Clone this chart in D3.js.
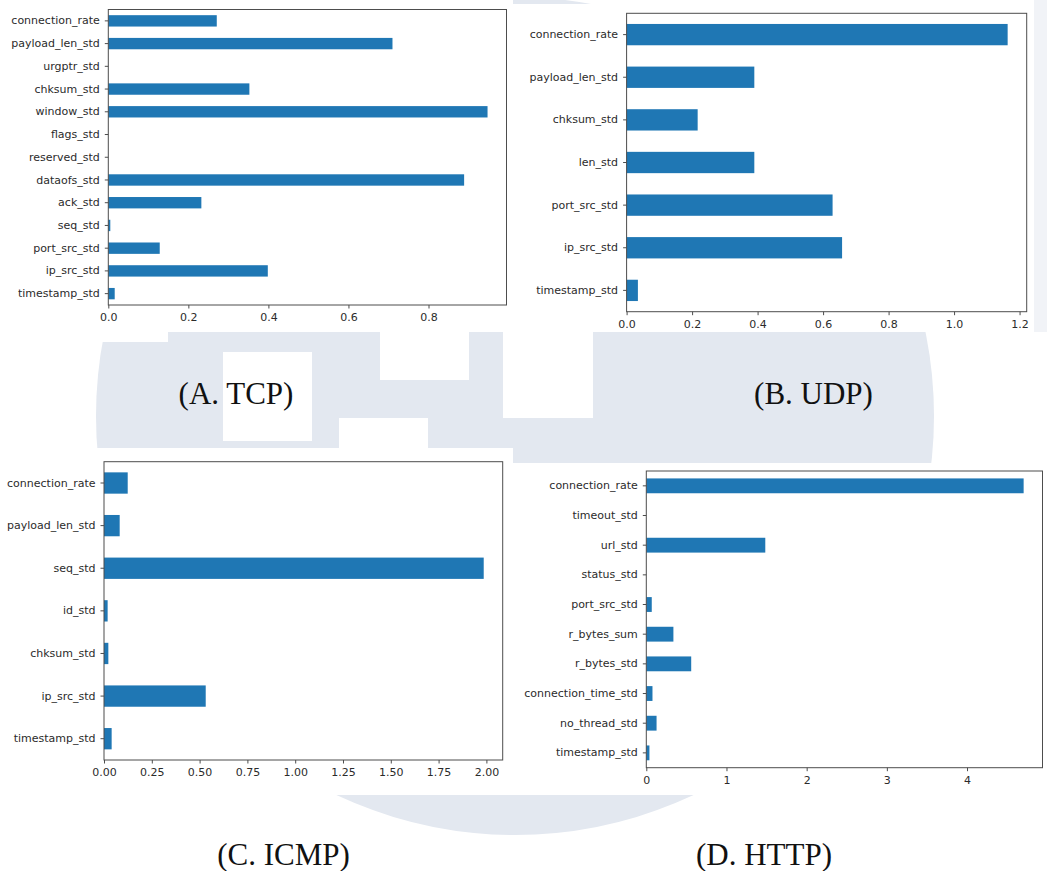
<!DOCTYPE html>
<html>
<head>
<meta charset="utf-8">
<script src="https://cdn.jsdelivr.net/npm/d3@7"></script>
<style>
  html, body { margin: 0; padding: 0; background: #ffffff; }
  svg { display: block; }
</style>
</head>
<body>
<script>
// ---- Feature importance per protocol (top-to-bottom order) ----
const tcpFeatures = ["connection_rate", "payload_len_std", "urgptr_std", "chksum_std", "window_std",
  "flags_std", "reserved_std", "dataofs_std", "ack_std", "seq_std", "port_src_std", "ip_src_std", "timestamp_std"];
const tcpValues = [0.271, 0.710, 0, 0.3525, 0.9475, 0, 0, 0.889, 0.2325, 0.005, 0.1285, 0.3985, 0.016];
const tcpTicks = [0, 0.2, 0.4, 0.6, 0.8];

const udpFeatures = ["connection_rate", "payload_len_std", "chksum_std", "len_std", "port_src_std", "ip_src_std", "timestamp_std"];
const udpValues = [1.1636, 0.390, 0.217, 0.390, 0.629, 0.658, 0.0345];
const udpTicks = [0, 0.2, 0.4, 0.6, 0.8, 1.0, 1.2];

const icmpFeatures = ["connection_rate", "payload_len_std", "seq_std", "id_std", "chksum_std", "ip_src_std", "timestamp_std"];
const icmpValues = [0.124, 0.082, 1.986, 0.019, 0.0227, 0.532, 0.040];
const icmpTicks = [0, 0.25, 0.5, 0.75, 1.0, 1.25, 1.5, 1.75, 2.0];

const httpFeatures = ["connection_rate", "timeout_std", "url_std", "status_std", "port_src_std", "r_bytes_sum",
  "r_bytes_std", "connection_time_std", "no_thread_std", "timestamp_std"];
const httpValues = [4.706, 0, 1.484, 0, 0.068, 0.338, 0.560, 0.077, 0.128, 0.039];
const httpTicks = [0, 1, 2, 3, 4];

const captions = ["(A. TCP)", "(B. UDP)", "(C. ICMP)", "(D. HTTP)"];

// ---- Page ----
const W = 1047, H = 871;
const svg = d3.select("body").append("svg").attr("width", W).attr("height", H);

// Background emblem: pale disc with square cut-outs, covered by the panel areas
const bg = svg.append("g");
bg.append("circle").attr("cx", 515).attr("cy", 416).attr("r", 419).attr("fill", "#e3e8f0");
const whiteBlocks = [
  [0, 0, 513, 332], [0, 0, 168, 342], [513, 4, 521, 328], [1034, 0, 13, 332],
  [223, 352, 89, 89], [380, 330, 89, 50], [339, 418, 89, 32], [503, 330, 90, 88],
  [0, 448, 513, 347], [513, 463, 534, 332]
];
bg.selectAll("rect.blk").data(whiteBlocks).join("rect")
  .attr("x", d => d[0]).attr("y", d => d[1]).attr("width", d => d[2]).attr("height", d => d[3])
  .attr("fill", "#ffffff");
bg.append("rect").attr("x", 1034).attr("y", 0).attr("width", 13).attr("height", 332).attr("fill", "#f1f3f7");

const BAR = "#1f77b4";
const INK = "#2b2b2b";
const SPINE = "#4d4d4d";

function drawPanel(features, values, ticks, fmt, box) {
  const g = svg.append("g");
  const vmax = d3.max(values);
  const x = d3.scaleLinear().domain([0, vmax * 1.05]).range([box.left, box.right]);
  const y = d3.scaleBand().domain(features).range([box.top, box.bottom])
    .paddingInner(0.5).paddingOuter(0.25);

  g.selectAll("rect.bar").data(features).join("rect")
    .attr("class", "bar")
    .attr("x", x(0))
    .attr("y", d => y(d))
    .attr("width", (d, i) => x(values[i]) - x(0))
    .attr("height", y.bandwidth())
    .attr("fill", BAR);

  const yAxis = g.append("g").attr("transform", `translate(${box.left},0)`)
    .call(d3.axisLeft(y).tickSize(3.5).tickPadding(5));
  const xAxis = g.append("g").attr("transform", `translate(0,${box.bottom})`)
    .call(d3.axisBottom(x).tickValues(ticks).tickFormat(d3.format(fmt)).tickSize(3.5).tickPadding(5));

  [yAxis, xAxis].forEach(a => {
    a.select(".domain").remove();
    a.selectAll("line").attr("stroke", SPINE).attr("stroke-width", 1);
    a.selectAll("text").attr("fill", INK)
      .attr("font-family", "'DejaVu Sans', sans-serif").attr("font-size", 11);
  });

  g.append("rect")
    .attr("x", box.left).attr("y", box.top)
    .attr("width", box.right - box.left).attr("height", box.bottom - box.top)
    .attr("fill", "none").attr("stroke", SPINE).attr("stroke-width", 1);
}

drawPanel(tcpFeatures, tcpValues, tcpTicks, ".1f", { left: 108.3, right: 506.5, top: 9.5, bottom: 305 });
drawPanel(udpFeatures, udpValues, udpTicks, ".1f", { left: 626.6, right: 1026.7, top: 13.3, bottom: 311.7 });
drawPanel(icmpFeatures, icmpValues, icmpTicks, ".2f", { left: 104, right: 502.7, top: 461.7, bottom: 760 });
drawPanel(httpFeatures, httpValues, httpTicks, "d", { left: 646.3, right: 1042.5, top: 471, bottom: 767.7 });

// Panel captions
const capPos = [[236, 404], [813.5, 404], [283.5, 865], [764, 865]];
svg.selectAll("text.cap").data(captions).join("text")
  .attr("class", "cap")
  .attr("x", (d, i) => capPos[i][0]).attr("y", (d, i) => capPos[i][1])
  .attr("text-anchor", "middle")
  .attr("font-family", "'Liberation Serif', 'Times New Roman', serif")
  .attr("font-size", 31)
  .attr("fill", "#111111")
  .text(d => d);
</script>
</body>
</html>
